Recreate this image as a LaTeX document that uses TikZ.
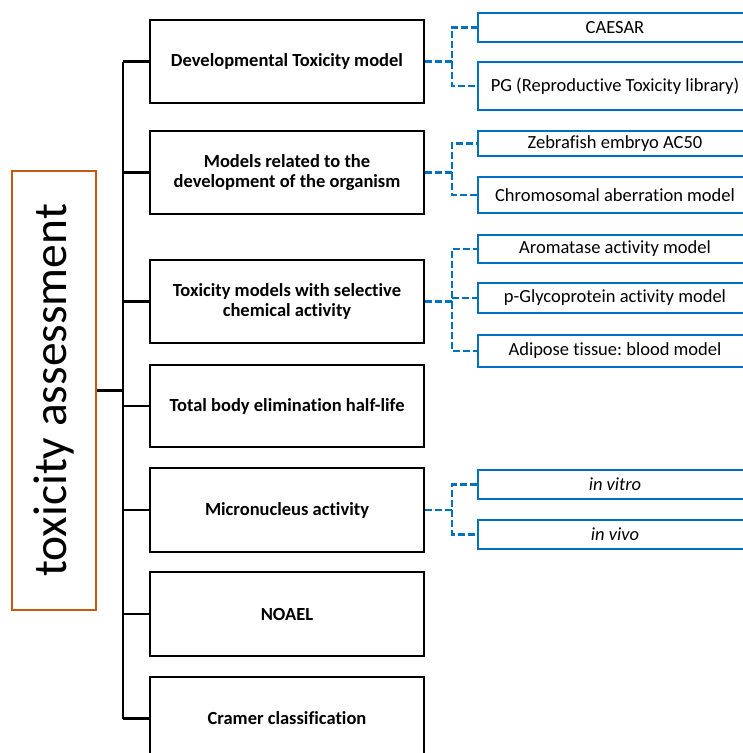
\documentclass[tikz,border=0pt]{standalone}
\usepackage{fontspec}
\setmainfont[Ligatures={NoCommon,NoRare,NoContextual}]{Carlito}
\frenchspacing
\definecolor{offblue}{HTML}{0070C0}
\definecolor{offorange}{HTML}{C55A11}
\begin{document}
\begin{tikzpicture}[x=1pt,y=-1pt,
  mainbox/.style={draw=black,line width=2.5pt,minimum width=274pt,inner sep=0pt,align=center,
    font=\fontsize{18.5}{20}\selectfont\bfseries},
  subbox/.style={draw=offblue,line width=2.3pt,minimum width=274pt,inner sep=0pt,align=center,
    font=\fontsize{18.5}{20}\selectfont},
  rootbox/.style={draw=offorange,line width=2pt,minimum width=84pt,minimum height=439pt,inner sep=0pt},
  tree/.style={draw=black,line width=2.2pt},
  dsh/.style={draw=offblue,line width=2.4pt,dash pattern=on 7pt off 3pt}]
\clip (0,0) rectangle (743,753);
% root
\node[rootbox] (root) at (54,390.5) {};
\node[rotate=90,font=\fontsize{47.5}{50}\selectfont] (roottext) at (root.center) {toxicity assessment};
% main boxes
\node[mainbox,minimum height=83pt] (b1) at (287,61.5) {Developmental Toxicity model};
\node[mainbox,minimum height=83pt] (b2) at (287,172.5) {Models related to the\\development of the organism};
\node[mainbox,minimum height=83pt] (b3) at (287,301.5) {Toxicity models with selective\\chemical activity};
\node[mainbox,minimum height=82pt] (b4) at (287,406) {Total body elimination half-life};
\node[mainbox,minimum height=84pt] (b5) at (287,510) {Micronucleus activity};
\node[mainbox,minimum height=84pt] (b6) at (287,614) {NOAEL};
\node[mainbox,minimum height=83pt] (b7) at (287,718.5) {Cramer classification};
% sub boxes
\node[subbox,minimum height=29pt] (c1) at (615,27.5) {CAESAR};
\node[subbox,minimum height=48pt] (c2) at (615,86) {PG (Reproductive Toxicity library)};
\node[subbox,minimum height=25pt] (c3) at (615,143.5) {Zebrafish embryo AC50};
\node[subbox,minimum height=36pt] (c4) at (615,195) {Chromosomal aberration model};
\node[subbox,minimum height=28pt] (c5) at (615,249) {Aromatase activity model};
\node[subbox,minimum height=30pt] (c6) at (615,298) {p-Glycoprotein activity model};
\node[subbox,minimum height=32pt] (c7) at (615,351) {Adipose tissue: blood model};
\node[subbox,minimum height=29pt] (c8) at (615,484.5) {\itshape in vitro};
\node[subbox,minimum height=29pt] (c9) at (615,534.5) {\itshape in vivo};
% tree connectors
\coordinate (bus) at (123,390.5);
\coordinate (jx) at (452,0);
\draw[tree,line width=3pt] (root.east) -- (bus);
\draw[tree] (b1.west -| bus) -- (b7.west -| bus);
\foreach \b in {b1,b2,b3,b4,b5,b6,b7}{
  \draw[tree] (\b.west) -- (\b.west -| bus);
}
% dashed connectors
\draw[dsh] (b1.east) -- (b1.east -| jx) |- (c1.west);
\draw[dsh] (b1.east -| jx) |- (c2.west);
\draw[dsh] (b2.east) -- (b2.east -| jx) |- (c3.west);
\draw[dsh] (b2.east -| jx) |- (c4.west);
\draw[dsh] (b3.east) -- (b3.east -| jx) |- (c5.west);
\draw[dsh] (b3.east -| jx) |- (c7.west);
\draw[dsh] (c6.west -| jx) -- (c6.west);
\draw[dsh] (b5.east) -- (b5.east -| jx) |- (c8.west);
\draw[dsh] (b5.east -| jx) |- (c9.west);
\end{tikzpicture}
\end{document}
